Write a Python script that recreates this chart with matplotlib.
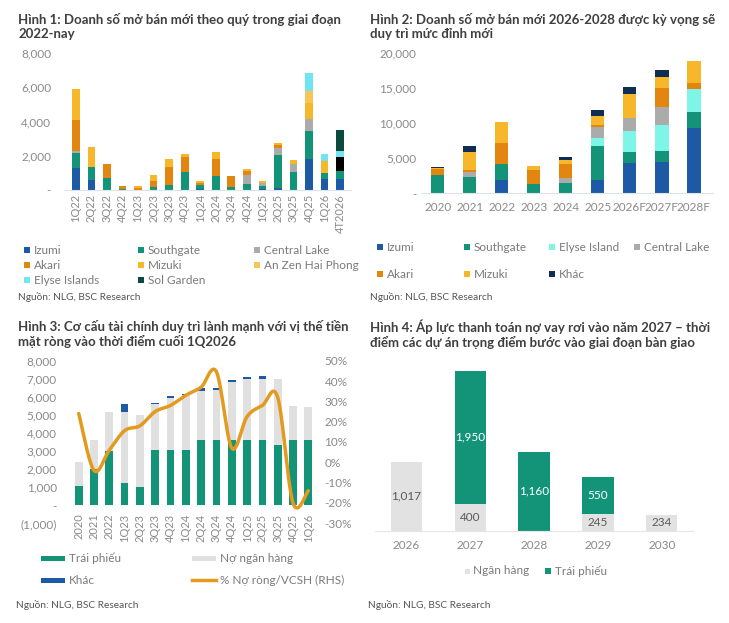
import numpy as np
import matplotlib
matplotlib.use('Agg')
import matplotlib.pyplot as plt
from matplotlib.patches import Rectangle
from matplotlib.lines import Line2D
from matplotlib.ticker import FuncFormatter

# ---- Hình 1: quarterly new sales (bn VND)
quarters = ['1Q22', '2Q22', '3Q22', '4Q22', '1Q23', '2Q23', '3Q23', '4Q23', '1Q24',
            '2Q24', '3Q24', '4Q24', '1Q25', '2Q25', '3Q25', '4Q25', '1Q26', '4T2026']
q_izumi = [1300, 600, 0, 0, 0, 0, 0, 0, 80, 0, 0, 0, 60, 100, 0, 1800, 640, 640]
q_southgate = [880, 730, 680, 60, 0, 200, 300, 1050, 200, 820, 200, 350, 190, 1950, 1070, 1650, 330, 470]
q_central = [100, 0, 0, 0, 0, 0, 0, 0, 0, 0, 0, 510, 140, 390, 430, 680, 0, 0]
q_akari = [1800, 0, 840, 170, 100, 350, 1050, 900, 100, 990, 640, 250, 0, 190, 0, 0, 0, 0]
q_mizuki = [1800, 1200, 0, 0, 150, 330, 440, 180, 170, 430, 0, 140, 160, 100, 250, 940, 730, 0]
q_anzen = [0, 0, 0, 0, 0, 0, 0, 0, 0, 0, 0, 0, 0, 0, 0, 740, 0, 0]
q_black = [0, 0, 0, 0, 0, 0, 0, 0, 0, 0, 0, 0, 0, 0, 0, 0, 0, 800]
q_elyse = [0, 0, 0, 0, 0, 0, 0, 0, 0, 0, 0, 0, 0, 0, 0, 1050, 390, 390]
q_solgarden = [0, 0, 0, 0, 0, 0, 0, 0, 0, 0, 0, 0, 0, 0, 0, 0, 0, 1200]

# ---- Hình 2: yearly new sales
years = ['2020', '2021', '2022', '2023', '2024', '2025', '2026F', '2027F', '2028F']
y_izumi = [0, 0, 1850, 0, 0, 1890, 4350, 4450, 9330]
y_southgate = [2550, 2280, 2320, 1320, 1510, 4880, 1520, 1570, 2230]
y_elyse = [0, 0, 0, 0, 0, 1130, 2990, 3650, 3230]
y_central = [0, 750, 0, 0, 710, 1580, 1810, 2560, 0]
y_akari = [850, 280, 3030, 1990, 1900, 240, 0, 2710, 940]
y_mizuki = [150, 2520, 2900, 620, 620, 1280, 3450, 1660, 3070]
y_khac = [200, 940, 0, 0, 420, 850, 1000, 1000, 0]

# ---- Hình 3: debt structure
periods = ['2020', '2021', '2022', '1Q23', '2Q23', '3Q23', '4Q23', '1Q24',
           '2Q24', '3Q24', '4Q24', '1Q25', '2Q25', '3Q25', '4Q25', '1Q26']
debt_bond = [1070, 1980, 2990, 1240, 1020, 3050, 3050, 3050, 3600, 3600, 3600, 3600, 3600, 3360, 3600, 3600]
debt_bank = [1330, 1620, 2160, 3940, 4000, 2550, 2860, 3050, 2740, 2800, 3200, 3380, 3400, 3620, 1900, 1850]
debt_other = [0, 0, 0, 400, 0, 50, 130, 80, 160, 100, 130, 130, 170, 0, 0, 0]
net_debt_pct = [24, -4, 6, 15.6, 18, 25, 28, 33, 37, 44.5, 7, 22.5, 28, 32, -20, -14]

# ---- Hình 4: repayment schedule
repay_years = ['2026', '2027', '2028', '2029', '2030']
repay_bank = [1017, 400, 0, 245, 234]
repay_bond = [0, 1950, 1160, 550, 0]

C_IZUMI = '#1d5aa6'
C_SOUTH = '#139479'
C_CENTRAL = '#ababab'
C_AKARI = '#e3860f'
C_MIZUKI = '#f6b82a'
C_ANZEN = '#f8c656'
C_ELYSE = '#70e4f2'
C_ELYSE2 = '#7ef5e6'
C_SOL = '#0b4a3d'
C_KHAC = '#0f2e53'
C_GREY = '#e0e0e0'
C_LINE = '#e39a1e'

W, H = 729, 623
plt.rcParams['font.family'] = ['Lato', 'DejaVu Sans']
TITLE_C = '#3f3f3f'
TICK_C = '#8a8a8a'
LEG_C = '#7a7a7a'
TITLE_FS = 9.5
TICK_FS = 8.5


def box(l, t, r, b):
    return [l / W, 1 - b / H, (r - l) / W, (b - t) / H]


def ftext(x, y, s, **kw):
    fig.text(x / W, 1 - y / H, s, **kw)


def key(x, y, color, label, w=6, h=6, line=False):
    if line:
        fig.lines.append(Line2D([(x - w / 2) / W, (x + w / 2) / W], [1 - y / H, 1 - y / H],
                                transform=fig.transFigure, color=color, lw=h))
    else:
        fig.patches.append(Rectangle(((x - w / 2) / W, 1 - (y + h / 2) / H), w / W, h / H,
                                     transform=fig.transFigure, color=color, lw=0))
    ftext(x + w / 2 + 4, y, label, va='center', ha='left', fontsize=8.5, color=LEG_C)


def kfmt(v, pos):
    if v == 0:
        return '-'
    if v < 0:
        return '({:,.0f})'.format(abs(v))
    return '{:,.0f}'.format(v)


def clean(ax):
    for s in ax.spines.values():
        s.set_visible(False)
    ax.tick_params(length=0, labelcolor=TICK_C)


def smooth(xs, ys, n=24):
    pts = np.column_stack([xs, ys]).astype(float)
    p = np.vstack([pts[0], pts, pts[-1]])
    out = []
    t = np.linspace(0, 1, n, endpoint=False)[:, None]
    for i in range(1, len(p) - 2):
        p0, p1, p2, p3 = p[i - 1], p[i], p[i + 1], p[i + 2]
        seg = 0.5 * (2 * p1 + (-p0 + p2) * t + (2 * p0 - 5 * p1 + 4 * p2 - p3) * t ** 2
                     + (-p0 + 3 * p1 - 3 * p2 + p3) * t ** 3)
        out.append(seg)
    out.append(pts[-1:])
    return np.vstack(out)


fig = plt.figure(figsize=(W / 100, H / 100), dpi=100)

# ================= Panel 1
ax1 = fig.add_axes(box(65, 53, 351, 190))
x1 = np.arange(len(quarters))
bottom = np.zeros(len(quarters))
for vals, c in [(q_izumi, C_IZUMI), (q_southgate, C_SOUTH), (q_central, C_CENTRAL),
                (q_akari, C_AKARI), (q_mizuki, C_MIZUKI), (q_anzen, C_ANZEN),
                (q_black, '#000000'), (q_elyse, C_ELYSE), (q_solgarden, C_SOL)]:
    ax1.bar(x1, vals, 0.5, bottom=bottom, color=c, lw=0)
    bottom += np.array(vals)
ax1.set_ylim(0, 8000)
ax1.set_xlim(-0.7, 17.7)
ax1.set_yticks([0, 2000, 4000, 6000, 8000])
ax1.yaxis.set_major_formatter(FuncFormatter(kfmt))
ax1.set_xticks(x1, quarters, rotation=90)
clean(ax1)
ax1.spines['bottom'].set_visible(True)
ax1.spines['bottom'].set_color('#dde3ea')
ax1.tick_params(axis='y', labelsize=TICK_FS, pad=10)
ax1.tick_params(axis='x', labelsize=8, pad=3)

ftext(18, 13, 'Hình 1: Doanh số mở bán mới theo quý trong giai đoạn\n2022-nay',
      fontsize=TITLE_FS, fontweight='bold', color=TITLE_C, va='top', linespacing=1.15)
for (lx, ly, c, lab) in [(27, 250, C_IZUMI, 'Izumi'), (141, 250, C_SOUTH, 'Southgate'),
                         (257, 250, C_CENTRAL, 'Central Lake'), (27, 265, C_AKARI, 'Akari'),
                         (141, 265, C_MIZUKI, 'Mizuki'), (257, 265, C_ANZEN, 'An Zen Hai Phong'),
                         (27, 280, C_ELYSE, 'Elyse Islands'), (141, 280, C_SOL, 'Sol Garden')]:
    key(lx, ly, c, lab)
ftext(18, 297, 'Nguồn: NLG, BSC Research', fontsize=7.3, color='#555555', va='center')

# ================= Panel 2
ax2 = fig.add_axes(box(422, 52.7, 713, 193.3))
x2 = np.arange(len(years))
bottom = np.zeros(len(years))
for vals, c in [(y_izumi, C_IZUMI), (y_southgate, C_SOUTH), (y_elyse, C_ELYSE2),
                (y_central, C_CENTRAL), (y_akari, C_AKARI), (y_mizuki, C_MIZUKI),
                (y_khac, C_KHAC)]:
    ax2.bar(x2, vals, 0.42, bottom=bottom, color=c, lw=0)
    bottom += np.array(vals)
ax2.set_ylim(0, 20000)
ax2.set_xlim(-0.49, 8.6)
ax2.set_yticks([0, 5000, 10000, 15000, 20000])
ax2.yaxis.set_major_formatter(FuncFormatter(kfmt))
ax2.set_xticks(x2, years)
clean(ax2)
ax2.spines['bottom'].set_visible(True)
ax2.spines['bottom'].set_color('#dde3ea')
ax2.tick_params(axis='y', labelsize=TICK_FS, pad=4)
ax2.tick_params(axis='x', labelsize=TICK_FS, pad=6)

ftext(370, 13, 'Hình 2: Doanh số mở bán mới 2026-2028 được kỳ vọng sẽ\nduy trì mức đỉnh mới',
      fontsize=TITLE_FS, fontweight='bold', color=TITLE_C, va='top', linespacing=1.15)
for (lx, ly, c, lab) in [(380, 247, C_IZUMI, 'Izumi'), (467, 247, C_SOUTH, 'Southgate'),
                         (552, 247, C_ELYSE2, 'Elyse Island'), (637, 247, C_CENTRAL, 'Central Lake'),
                         (380, 274, C_AKARI, 'Akari'), (467, 274, C_MIZUKI, 'Mizuki'),
                         (552, 274, C_KHAC, 'Khác')]:
    key(lx, ly, c, lab)
ftext(370, 297, 'Nguồn: NLG, BSC Research', fontsize=7.3, color='#555555', va='center')

# ================= Panel 3
ax3 = fig.add_axes(box(68, 360.7, 319, 523.3))
x3 = np.arange(len(periods))
bottom = np.zeros(len(periods))
for vals, c in [(debt_bond, C_SOUTH), (debt_bank, C_GREY), (debt_other, C_IZUMI)]:
    ax3.bar(x3, vals, 0.5, bottom=bottom, color=c, lw=0)
    bottom += np.array(vals)
clean(ax3)
ax3.spines['bottom'].set_position(('data', 0))
ax3.set_ylim(-1000, 8000)
ax3.set_xlim(-0.7, 15.7)
ax3.set_yticks(np.arange(-1000, 8001, 1000))
ax3.yaxis.set_major_formatter(FuncFormatter(kfmt))
ax3.set_xticks(x3, periods)
ax3.tick_params(axis='x', labelrotation=90, labelsize=8, pad=6, length=0, labelcolor=TICK_C)
ax3.tick_params(axis='y', labelsize=TICK_FS, pad=8)

ax3r = ax3.twinx()
curve = smooth(x3, np.array(net_debt_pct) / 100)
ax3r.plot(curve[:, 0], curve[:, 1], color=C_LINE, lw=2.5, solid_capstyle='round')
ax3r.set_ylim(-0.3, 0.5)
ax3r.set_yticks(np.arange(-0.3, 0.51, 0.1))
ax3r.yaxis.set_major_formatter(FuncFormatter(lambda v, p: '{:.0f}%'.format(round(v * 100))))
clean(ax3r)
ax3r.tick_params(axis='y', labelsize=TICK_FS, pad=4)

ftext(18, 320, 'Hình 3: Cơ cấu tài chính duy trì lành mạnh với vị thế tiền\nmặt ròng vào thời điểm cuối 1Q2026',
      fontsize=TITLE_FS, fontweight='bold', color=TITLE_C, va='top', linespacing=1.15)
key(53, 558, C_SOUTH, 'Trái phiếu', w=24, h=5)
key(204, 558, C_GREY, 'Nợ ngân hàng', w=24, h=5)
key(53, 580, C_IZUMI, 'Khác', w=24, h=5)
key(204, 580, C_LINE, '% Nợ ròng/VCSH (RHS)', w=24, h=2.5, line=True)
ftext(16, 605, 'Nguồn: NLG, BSC Research', fontsize=7.3, color='#555555', va='center')

# ================= Panel 4
ax4 = fig.add_axes(box(375, 355, 693, 530.7))
x4 = np.arange(len(repay_years))
ax4.bar(x4, repay_bank, 0.49, color='#e2e2e2', lw=0)
ax4.bar(x4, repay_bond, 0.49, bottom=repay_bank, color=C_SOUTH, lw=0)
for i in range(len(repay_years)):
    if repay_bank[i] > 0:
        ax4.text(x4[i], repay_bank[i] / 2, '{:,}'.format(repay_bank[i]), ha='center', va='center',
                 fontsize=8.5, color='#5a5a5a')
    if repay_bond[i] > 0:
        ax4.text(x4[i], repay_bank[i] + repay_bond[i] / 2, '{:,}'.format(repay_bond[i]),
                 ha='center', va='center', fontsize=8.5, color='white')
ax4.set_ylim(0, 2584)
ax4.set_xlim(-0.49, 4.49)
ax4.set_yticks([])
ax4.set_xticks(x4, repay_years)
clean(ax4)
ax4.spines['bottom'].set_visible(True)
ax4.spines['bottom'].set_color('#e6e6e6')
ax4.tick_params(axis='x', labelsize=TICK_FS, pad=7)

ftext(370, 320, 'Hình 4: Áp lực thanh toán nợ vay rơi vào năm 2027 – thời\nđiểm các dự án trọng điểm bước vào giai đoạn bàn giao',
      fontsize=TITLE_FS, fontweight='bold', color=TITLE_C, va='top', linespacing=1.15)
key(467, 571, '#e2e2e2', 'Ngân hàng', w=5, h=5)
key(548, 571, C_SOUTH, 'Trái phiếu', w=6, h=6)
ftext(368, 605, 'Nguồn: NLG, BSC Research', fontsize=7.3, color='#555555', va='center')

fig.savefig('out.png', dpi=100)
